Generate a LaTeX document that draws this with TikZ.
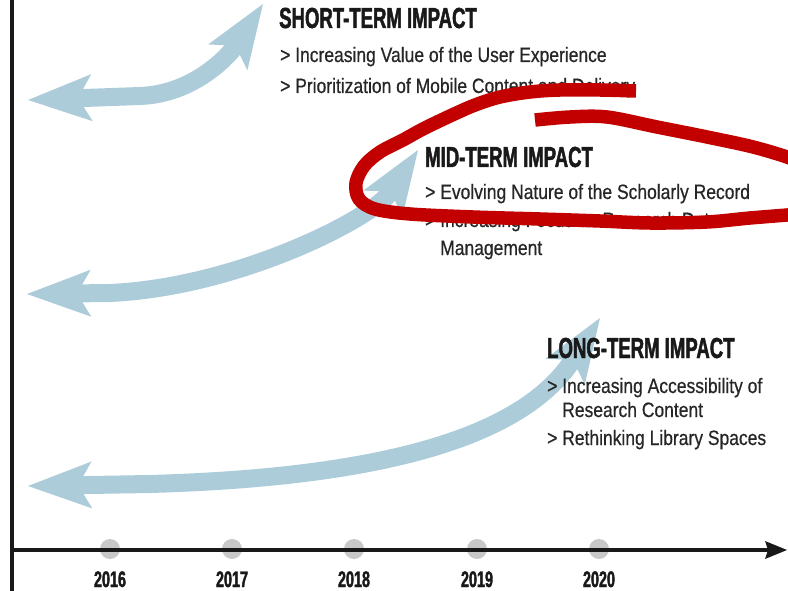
\documentclass[tikz,border=0pt]{standalone}
\usepackage{fontspec}
\usetikzlibrary{arrows.meta}
\newfontfamily\headfont[FakeStretch=0.64,FakeBold=1.6]{Liberation Sans}
\newfontfamily\bodyfont[FakeStretch=0.84,FakeBold=0.6]{Liberation Sans}
\definecolor{arrowblue}{RGB}{172,204,217}
\definecolor{scribred}{RGB}{195,0,0}
\definecolor{dotgray}{RGB}{200,200,200}
\definecolor{axisblack}{RGB}{25,25,25}
\definecolor{textgray}{RGB}{38,38,38}
\begin{document}
\begin{tikzpicture}[x=1pt,y=-1pt,
  impact/.style={draw=arrowblue, line width=18pt, line join=round,
    arrows={Stealth[length=64pt,width=47pt,inset=14pt,line width=0pt]-Stealth[length=64pt,width=47pt,inset=14pt,line width=0pt]}},
  heading/.style={anchor=base west, inner sep=0pt, font=\headfont\bfseries\fontsize{29}{30}\selectfont, text=axisblack},
  item/.style={anchor=base west, inner sep=0pt, font=\bodyfont\fontsize{20.8}{24}\selectfont, text=textgray},
  yearlabel/.style={anchor=base, inner sep=0pt, font=\headfont\bfseries\fontsize{22.5}{24}\selectfont, text=axisblack},
  scribble/.style={draw=scribred, line width=13.5pt, line join=round},
  tickdot/.style={circle, fill=dotgray, minimum size=20pt, inner sep=0pt},
  axisline/.style={draw=axisblack, line width=4pt}
]
\useasboundingbox (0,0) rectangle (788,591);
\clip (0,0) rectangle (788,591);

% axis coordinates
\coordinate (ytop) at (12,-2);
\coordinate (ybot) at (12,593);
\coordinate (xorig) at (12,550);
\coordinate (xend) at (787,550);

% year dots
\node[tickdot] (d16) at (110,549) {};
\node[tickdot] (d17) at (232,549) {};
\node[tickdot] (d18) at (354,549) {};
\node[tickdot] (d19) at (477,549) {};
\node[tickdot] (d20) at (599,549) {};

% axes
\draw[axisline] (ytop) -- (ybot);
\draw[axisline, -{Stealth[length=22pt,width=18pt,inset=3pt,line width=0pt]}] (xorig) -- (xend);

% years
\node[yearlabel] (y16) at (110,587) {2016};
\node[yearlabel] (y17) at (232,587) {2017};
\node[yearlabel] (y18) at (354,587) {2018};
\node[yearlabel] (y19) at (477,587) {2019};
\node[yearlabel] (y20) at (599,587) {2020};

% impact arrows
\coordinate (sL) at (28,100);
\coordinate (sR) at (263,4);
\coordinate (mL) at (27,294);
\coordinate (mR) at (418,150);
\coordinate (lL) at (28,486);
\coordinate (lR) at (600,318);
\draw[impact] (sL) -- (140,96) .. controls (195,94) and (230,54) .. (sR);
\draw[impact] (mL) -- (110,293) .. controls (240,287) and (374,217) .. (mR);
\draw[impact] (lL) -- (150,484) .. controls (360,478) and (518,444) .. (lR);

% texts
\node[heading] (hS) at (279,28) {SHORT-TERM IMPACT};
\node[item] (s1) at (280,62) {>\ Increasing Value of the User Experience};
\node[item] (s2) at (280,93) {>\ Prioritization of Mobile Content and Delivery};

\node[heading] (hM) at (425,167) {MID-TERM IMPACT};
\node[item] (m1) at (425,199) {>\ Evolving Nature of the Scholarly Record};
\node[item] (m2) at (425,227) {>\ Increasing Focus on Research Data};
\node[item] (m3) at (425,255) {\phantom{>\ }Management};

\node[heading] (hL) at (547,358) {LONG-TERM IMPACT};
\node[item] (l1) at (547,393) {>\ Increasing Accessibility of};
\node[item] (l2) at (547,417) {\phantom{>\ }Research Content};
\node[item] (l3) at (547,445) {>\ Rethinking Library Spaces};

% red annotation
\draw[scribble] plot[smooth, tension=0.55] coordinates {(636,91) (600,90) (560,90) (530,92) (500,97) (475,105) (450,116) (423,129) (403,140) (380,152) (364,166) (356,183) (359,199) (375,209) (410,214) (473,217) (540,219) (600,221) (650,223) (707,222) (750,218) (800,214)};
\draw[scribble] plot[smooth, tension=0.55] coordinates {(535,120) (570,117) (607,117) (657,127) (707,137) (757,148) (800,162) (830,180)};
\end{tikzpicture}
\end{document}
